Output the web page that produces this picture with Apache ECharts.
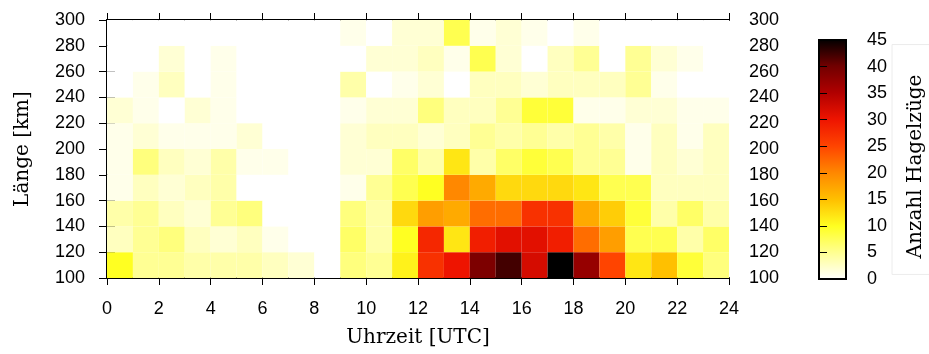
<!DOCTYPE html>
<html>
<head>
<meta charset="utf-8">
<script src="https://cdn.jsdelivr.net/npm/echarts@6/dist/echarts.min.js"></script>
<style>
  html, body { margin: 0; padding: 0; background: #fff; }
  #chart { width: 929px; height: 354px; }
</style>
</head>
<body>
<div id="chart"></div>
<script>
// Stunde (Beginn des 1h-Intervalls) und Länge (Beginn des 20km-Intervalls)
var hourStarts = [0, 1, 2, 3, 4, 5, 6, 7, 8, 9, 10, 11, 12, 13, 14, 15, 16, 17, 18, 19, 20, 21, 22, 23];
var kmStarts = [100, 120, 140, 160, 180, 200, 220, 240, 260, 280];

// Anzahl Hagelzüge je Längenklasse, Spalten = Stunden 0..23
var km100 = [10, 5, 5, 4, 4, 4, 3, 2, 0, 6, 5, 11, 27, 30, 39, 42, 32, 45, 37, 25, 12, 15, 9, 6];
var km120 = [3, 5, 6, 3, 2, 3, 1, 0, 0, 7, 4, 10, 28, 12, 29, 31, 31, 29, 22, 18, 8, 8, 4, 7];
var km140 = [4, 5, 3, 2, 5, 6, 0, 0, 0, 6, 4, 13, 18, 17, 22, 22, 27, 27, 17, 14, 9, 4, 7, 4];
var km160 = [1, 3, 2, 3, 4, 0, 0, 0, 0, 1, 5, 8, 10, 20, 17, 13, 13, 13, 12, 8, 8, 3, 3, 3];
var km180 = [1, 6, 3, 2, 4, 1, 1, 0, 0, 2, 2, 7, 4, 12, 4, 7, 9, 8, 5, 5, 1, 3, 2, 3];
var km200 = [1, 2, 1, 1, 1, 2, 0, 0, 0, 2, 3, 3, 2, 3, 5, 4, 5, 4, 5, 4, 1, 3, 1, 3];
var km220 = [2, 1, 0, 2, 1, 0, 0, 0, 0, 1, 2, 2, 6, 3, 3, 5, 9, 9, 1, 1, 2, 2, 1, 1];
var km240 = [0, 1, 3, 0, 1, 0, 0, 0, 0, 4, 0, 1, 2, 0, 3, 3, 2, 3, 3, 3, 5, 1, 0, 0];
var km260 = [0, 0, 2, 0, 1, 0, 0, 0, 0, 0, 2, 2, 3, 1, 8, 2, 0, 3, 5, 0, 5, 2, 1, 0];
var km280 = [0, 0, 0, 0, 0, 0, 0, 0, 0, 1, 0, 2, 2, 8, 1, 2, 1, 0, 1, 0, 0, 0, 0, 0];

var countRows = [km100, km120, km140, km160, km180, km200, km220, km240, km260, km280];

var xTicks = { min: 0, max: 24, interval: 2 };
var yTicks = { min: 100, max: 300, interval: 20 };
var cbTicks = { min: 0, max: 45, interval: 5 };

// Farbskala (gleichmäßig von 0 bis 45)
var paletteColors = ['#ffffff', '#ffff94', '#ffff22', '#ffc000', '#ff8800',
                     '#ff4400', '#ee1400', '#b00000', '#700000', '#000000'];

var cells = [];
countRows.forEach(function (row, r) {
    row.forEach(function (v, c) {
        cells.push([hourStarts[c], kmStarts[r], v]);
    });
});

var gradientStops = paletteColors.map(function (col, i) {
    return { offset: i / (paletteColors.length - 1), color: col };
});

var tickFont = { fontFamily: 'Liberation Sans', fontSize: 18, color: '#000' };
var titleFont = { fontFamily: 'DejaVu Serif', fontSize: 20, color: '#000' };

var chart = echarts.init(document.getElementById('chart'));

chart.setOption({
    animation: false,
    backgroundColor: '#fff',
    grid: [
        { left: 107, top: 20, width: 622, height: 258, outerBoundsMode: 'none' },
        {
            left: 819, top: 40, width: 27, height: 239, show: true, outerBoundsMode: 'none',
            borderColor: '#000', borderWidth: 2,
            backgroundColor: { type: 'linear', x: 0, y: 1, x2: 0, y2: 0, colorStops: gradientStops }
        }
    ],
    visualMap: {
        type: 'continuous', show: false, min: cbTicks.min, max: cbTicks.max,
        dimension: 2, seriesIndex: 0,
        inRange: { color: paletteColors }
    },
    xAxis: [
        {
            type: 'value', gridIndex: 0, position: 'bottom',
            min: xTicks.min, max: xTicks.max, interval: xTicks.interval,
            name: 'Uhrzeit [UTC]', nameLocation: 'middle', nameGap: 50, nameTextStyle: titleFont,
            axisLine: { lineStyle: { color: '#000', width: 2 } },
            axisTick: { inside: false, length: 7, lineStyle: { color: '#000', width: 1 } },
            axisLabel: Object.assign({ margin: 22 }, tickFont),
            splitLine: { show: false }
        },
        {
            type: 'value', gridIndex: 0, position: 'top',
            min: xTicks.min, max: xTicks.max, interval: xTicks.interval,
            axisLine: { lineStyle: { color: '#000', width: 2 } },
            axisTick: { inside: false, length: 7, lineStyle: { color: '#000', width: 1 } },
            axisLabel: { show: false },
            splitLine: { show: false }
        },
        { type: 'value', gridIndex: 1, min: 0, max: 1, show: false }
    ],
    yAxis: [
        {
            type: 'value', gridIndex: 0, position: 'left',
            min: yTicks.min, max: yTicks.max, interval: yTicks.interval,
            name: 'Länge [km]', nameLocation: 'middle', nameGap: 74, nameRotate: 90, nameTextStyle: titleFont,
            axisLine: { show: true, lineStyle: { color: '#000', width: 2 } },
            axisTick: { show: true, inside: false, length: 8, lineStyle: { color: '#000', width: 1 } },
            axisLabel: Object.assign({ margin: 22 }, tickFont),
            splitLine: { show: false }
        },
        {
            type: 'value', gridIndex: 0, position: 'right',
            min: yTicks.min, max: yTicks.max, interval: yTicks.interval,
            axisLine: { show: true, lineStyle: { color: '#000', width: 2 } },
            axisTick: { show: true, inside: false, length: 8, lineStyle: { color: '#000', width: 1 } },
            axisLabel: Object.assign({ margin: 20 }, tickFont),
            splitLine: { show: false }
        },
        {
            type: 'value', gridIndex: 1, position: 'right',
            min: cbTicks.min, max: cbTicks.max, interval: cbTicks.interval,
            name: 'Anzahl Hagelzüge', nameLocation: 'middle', nameGap: 46, nameRotate: 90,
            nameTextStyle: Object.assign({
                borderColor: '#ececec', borderWidth: 1, padding: [14, 30, 14, 16]
            }, titleFont),
            axisLine: { show: false },
            axisTick: { show: true, inside: false, length: 8, lineStyle: { color: '#000', width: 1 } },
            axisLabel: Object.assign({ margin: 21 }, tickFont),
            splitLine: { show: false }
        }
    ],
    series: [{
        type: 'custom',
        xAxisIndex: 0,
        yAxisIndex: 0,
        data: cells,
        encode: { x: 0, y: 1 },
        renderItem: function (params, api) {
            var x0 = api.value(0), y0 = api.value(1);
            var p0 = api.coord([x0, y0]);
            var p1 = api.coord([x0 + 1, y0 + yTicks.interval]);
            return {
                type: 'rect',
                shape: { x: p0[0], y: p1[1], width: p1[0] - p0[0], height: p0[1] - p1[1] },
                style: { fill: api.visual('color') }
            };
        },
        z: 1
    }]
});
</script>
</body>
</html>
